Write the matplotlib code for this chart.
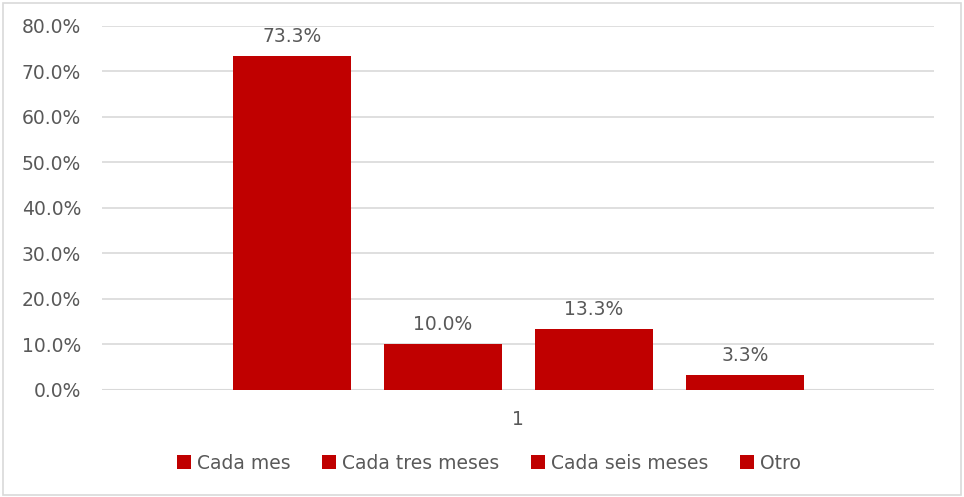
import matplotlib.pyplot as plt
from matplotlib.patches import Rectangle

series = ["Cada mes", "Cada tres meses", "Cada seis meses", "Otro"]
values = [73.3, 10.0, 13.3, 3.3]
yticks = [0, 10, 20, 30, 40, 50, 60, 70, 80]

red = "#C00000"
grey_txt = "#595959"
plt.rcParams['font.family'] = ['DejaVu Sans']
fs = 13.5

fig = plt.figure(figsize=(9.64, 4.97), dpi=100)
ax = fig.add_axes([0.1058, 0.2153, 0.8631, 0.7324])

pos = [0, 1, 2, 3]
for i in range(len(series)):
    ax.bar(pos[i], values[i], width=0.78, color=red, label=series[i], zorder=3)
    ax.text(pos[i], values[i] + 2.3, "%.1f%%" % values[i], ha='center', va='bottom',
            fontsize=fs, color=grey_txt)

ax.set_xlim(-1.258, 4.252)
ax.set_ylim(0, 80)
ax.set_yticks(yticks)
ax.set_yticklabels(["%.1f%%" % t for t in yticks], fontsize=fs, color=grey_txt)
ax.set_xticks([])
ax.tick_params(axis='y', length=0, pad=15)
ax.grid(axis='y', color='#D9D9D9', linewidth=1.2, zorder=0)
for s in ax.spines.values():
    s.set_visible(False)
ax.axhline(0, color='#D9D9D9', linewidth=1.5, zorder=2)

ax.text(0.5, -0.08, "1", transform=ax.transAxes, ha='center', va='center',
        fontsize=fs, color=grey_txt)

leg = fig.legend(loc='center', bbox_to_anchor=(0.507, 0.068), ncol=4, frameon=False,
                 fontsize=fs, handlelength=0.75, handleheight=0.75, handletextpad=0.3,
                 columnspacing=1.7)
for t in leg.get_texts():
    t.set_color(grey_txt)

fig.patches.append(Rectangle((0.003, 0.004), 0.994, 0.99, transform=fig.transFigure,
                             fill=False, edgecolor='#D9D9D9', linewidth=1.2))

fig.savefig("out.png", dpi=100)
